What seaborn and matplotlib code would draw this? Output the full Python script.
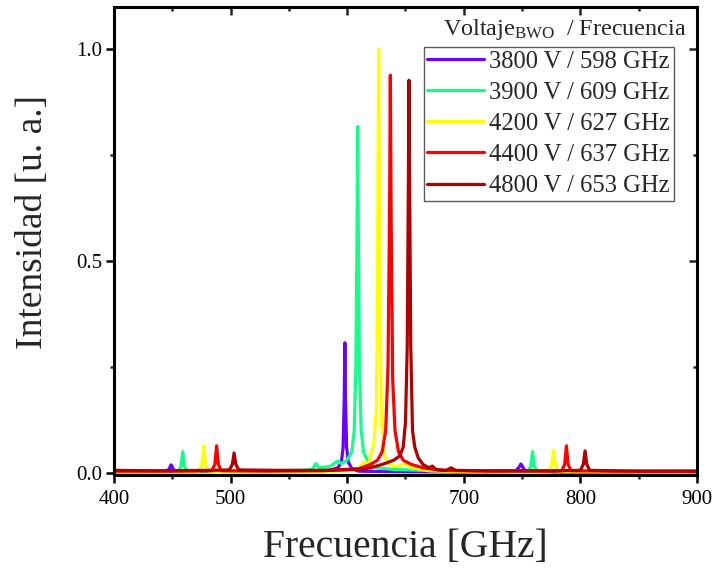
import numpy as np
import pandas as pd
import matplotlib
matplotlib.use("Agg")
import matplotlib.pyplot as plt
from matplotlib.ticker import MultipleLocator
import seaborn as sns

# Espectros medidos con el BWO a distintos voltajes (frecuencia en GHz, intensidad normalizada)
labels = ["3800 V / 598 GHz", "3900 V / 609 GHz", "4200 V / 627 GHz",
          "4400 V / 637 GHz", "4800 V / 653 GHz"]
colors = ["#6a00ff", "#14ff88", "#ffff00", "#ff0000", "#b00000"]

freq_3800 = [400, 430, 444, 447, 449, 451, 454, 480, 520, 560, 585, 592, 595, 596.5,
             597.5, 598, 598.5, 599.5, 601, 604, 610, 640, 700, 740, 745, 747, 749,
             751, 753, 780, 850, 900]
int_3800 = [0.002, 0.003, 0.003, 0.008, 0.019, 0.008, 0.003, 0.003, 0.004, 0.004, 0.006,
            0.012, 0.025, 0.06, 0.18, 0.307, 0.18, 0.06, 0.025, 0.01, 0.004, 0.003, 0.002,
            0.003, 0.006, 0.012, 0.021, 0.012, 0.004, 0.002, 0.002, 0.002]

freq_3900 = [400, 440, 455, 457.5, 459, 460.5, 463, 490, 530, 560, 570, 573, 576, 585,
             592, 595, 600, 604, 606, 607.5, 608.5, 609, 609.5, 610.5, 612, 614, 618, 625,
             640, 680, 730, 755, 757.5, 759, 760.5, 763, 800, 860, 900]
int_3900 = [0.003, 0.004, 0.004, 0.015, 0.05, 0.015, 0.004, 0.004, 0.005, 0.006, 0.008,
            0.022, 0.012, 0.015, 0.028, 0.022, 0.03, 0.05, 0.1, 0.25, 0.6, 0.818, 0.6,
            0.25, 0.1, 0.05, 0.025, 0.012, 0.008, 0.005, 0.004, 0.004, 0.015, 0.05, 0.015,
            0.004, 0.004, 0.004, 0.004]

freq_4200 = [400, 450, 473, 475.5, 477, 478.5, 481, 520, 570, 600, 610, 614, 618, 621,
             623, 625, 626, 626.6, 627, 627.4, 628, 629.5, 632, 636, 642, 650, 655, 660,
             670, 700, 760, 773, 775.5, 777, 778.5, 781, 820, 900]
int_4200 = [0.002, 0.003, 0.004, 0.02, 0.064, 0.02, 0.004, 0.003, 0.003, 0.005, 0.01,
            0.025, 0.02, 0.05, 0.07, 0.15, 0.4, 0.8, 1.0, 0.8, 0.4, 0.12, 0.04, 0.02,
            0.015, 0.022, 0.012, 0.01, 0.005, 0.003, 0.003, 0.004, 0.02, 0.054, 0.02,
            0.004, 0.003, 0.002]

freq_4400 = [400, 450, 484, 486.5, 488, 489.5, 492, 530, 580, 610, 620, 626, 630, 633,
             635, 636.3, 637, 637.7, 639, 641, 644, 648, 655, 665, 680, 720, 770, 784,
             786.5, 788, 789.5, 792, 830, 900]
int_4400 = [0.004, 0.004, 0.005, 0.02, 0.064, 0.02, 0.005, 0.004, 0.005, 0.01, 0.02,
            0.03, 0.05, 0.1, 0.25, 0.6, 0.939, 0.6, 0.22, 0.1, 0.05, 0.03, 0.02, 0.012,
            0.006, 0.004, 0.004, 0.005, 0.02, 0.064, 0.02, 0.005, 0.004, 0.004]

freq_4800 = [400, 440, 480, 499, 501.5, 503, 504.5, 507, 540, 580, 610, 620, 630, 640,
             645, 648, 650, 651.5, 652.5, 653, 653.5, 654.5, 656, 658, 661, 665, 670, 673,
             676, 685, 689, 693, 720, 780, 800, 802.5, 804, 805.5, 808, 850, 900]
int_4800 = [0.006, 0.005, 0.006, 0.007, 0.02, 0.047, 0.02, 0.007, 0.006, 0.006, 0.008,
            0.012, 0.02, 0.03, 0.04, 0.06, 0.12, 0.3, 0.7, 0.927, 0.7, 0.3, 0.1, 0.06,
            0.035, 0.02, 0.012, 0.016, 0.008, 0.006, 0.012, 0.006, 0.005, 0.005, 0.006,
            0.02, 0.052, 0.02, 0.006, 0.004, 0.004]

series = [(freq_3800, int_3800), (freq_3900, int_3900), (freq_4200, int_4200),
          (freq_4400, int_4400), (freq_4800, int_4800)]

frames = []
for lab, (f, i) in zip(labels, series):
    frames.append(pd.DataFrame({"Frecuencia": f, "Intensidad": i, "Serie": lab}))
df = pd.concat(frames, ignore_index=True)

sns.set_theme(style="ticks")
plt.rcParams["font.family"] = ["Liberation Serif", "DejaVu Serif"]
plt.rcParams["mathtext.fontset"] = "custom"
plt.rcParams["mathtext.rm"] = "Liberation Serif"
plt.rcParams["mathtext.it"] = "Liberation Serif:italic"

fig = plt.figure(figsize=(7.14, 5.71), dpi=100)
W, H = 714, 571
ax = fig.add_axes([114 / W, 1 - 475 / H, (697 - 114) / W, (475 - 7) / H])

sns.lineplot(data=df, x="Frecuencia", y="Intensidad", hue="Serie",
             hue_order=labels, palette=colors, estimator=None, sort=False,
             linewidth=2.3, ax=ax, legend=False)

ax.set_xlim(400, 900)
ax.set_ylim(-0.005, 1.1)
ax.xaxis.set_major_locator(MultipleLocator(100))
ax.xaxis.set_minor_locator(MultipleLocator(50))
ax.yaxis.set_major_locator(MultipleLocator(0.5))
ax.yaxis.set_minor_locator(MultipleLocator(0.25))
ax.yaxis.set_major_formatter(matplotlib.ticker.FormatStrFormatter("%.1f"))

for s in ax.spines.values():
    s.set_linewidth(2.2)
    s.set_color("black")

ax.tick_params(which="major", direction="out", length=5.5, width=1.8,
               labelsize=15, colors="black")
ax.tick_params(axis="x", which="major", pad=5)
ax.tick_params(axis="y", which="major", pad=3)
ax.tick_params(which="minor", direction="out", length=3, width=1.8)

# marcas interiores en los ejes superior y derecho
top = ax.secondary_xaxis("top")
top.xaxis.set_major_locator(MultipleLocator(100))
top.xaxis.set_minor_locator(MultipleLocator(50))
top.tick_params(which="major", direction="in", length=5.5, width=1.8, labeltop=False)
top.tick_params(which="minor", direction="in", length=3, width=1.8)
top.spines["top"].set_visible(False)
right = ax.secondary_yaxis("right")
right.yaxis.set_major_locator(MultipleLocator(0.5))
right.yaxis.set_minor_locator(MultipleLocator(0.25))
right.tick_params(which="major", direction="in", length=5.5, width=1.8, labelright=False)
right.tick_params(which="minor", direction="in", length=3, width=1.8)
right.spines["right"].set_visible(False)

ax.set_xlabel("Frecuencia [GHz]", fontsize=28.5)
ax.set_ylabel("Intensidad [u. a.]", fontsize=27)
ax.xaxis.set_label_coords(0.5, -0.115)
ax.yaxis.set_label_coords(-0.11, 0.54)

handles = [plt.Line2D([], [], color=c, lw=2.3) for c in colors]
leg = fig.legend(handles, labels, loc="upper right",
                 bbox_to_anchor=(674 / W, 1 - 47 / H), bbox_transform=fig.transFigure,
                 fontsize=17.7, frameon=True, fancybox=False, borderaxespad=0,
                 borderpad=0.15, labelspacing=0.36, handlelength=2.3,
                 handletextpad=0.22)
leg.get_frame().set_edgecolor("#333333")
leg.get_frame().set_linewidth(1.0)

fig.text(443 / W, 1 - 30 / H, r"Voltaje$_{\mathrm{BWO}}$  / Frecuencia",
         fontsize=17.4, va="center", ha="left")

fig.savefig("out.png", dpi=100)
